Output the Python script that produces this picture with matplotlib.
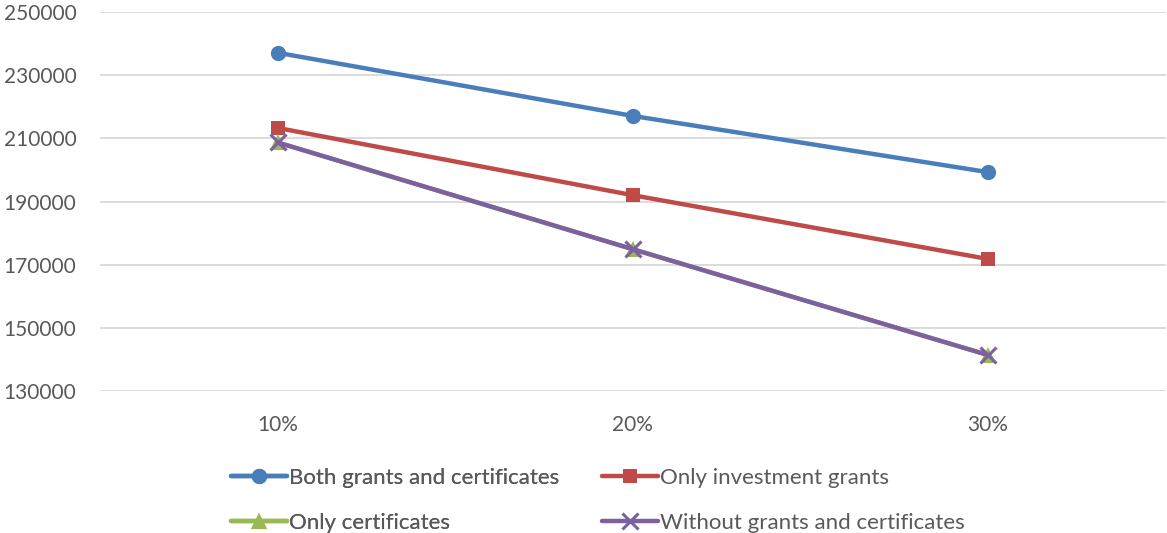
import matplotlib.pyplot as plt
import numpy as np

# discount rate scenarios and resulting values per support scheme
rates = ['10%', '20%', '30%']
both = [237100, 217100, 199300]
only_grants = [213300, 192000, 171800]
only_certs = [208700, 174900, 141400]
without = [208700, 174900, 141400]

series = [
    ('Both grants and certificates', both, '#4A7EBB', 'o', 11),
    ('Only investment grants', only_grants, '#BE4B48', 's', 10),
    ('Only certificates', only_certs, '#98B954', '^', 11),
    ('Without grants and certificates', without, '#7D60A0', 'x', 11),
]

plt.rcParams['font.family'] = ['Lato', 'DejaVu Sans']
text_col = '#595959'

fig = plt.figure(figsize=(11.67, 5.33), dpi=100)
ax = fig.add_axes([100/1167, 1 - 391/533, 1065.5/1167, 379/533])

x = np.arange(len(rates))
handles = []
for name, vals, col, mk, ms in series:
    kw = dict(markeredgewidth=2.2) if mk == 'x' else dict(markeredgewidth=0)
    h, = ax.plot(x, vals, color=col, lw=3.2, marker=mk, markersize=ms,
                 markerfacecolor=col, markeredgecolor=col, label=name,
                 solid_capstyle='round', **kw)
    handles.append(h)

ax.set_xlim(-0.5, 2.5)
ax.set_ylim(130000, 250000)
ax.set_yticks(np.arange(130000, 250001, 20000))
ax.set_xticks(x)
ax.set_xticklabels(rates)
ax.grid(axis='y', color='#D9D9D9', lw=1.3)
ax.set_axisbelow(True)
for s in ax.spines.values():
    s.set_visible(False)
ax.tick_params(length=0, labelsize=15, colors=text_col)
ax.tick_params(axis='y', pad=17)
ax.tick_params(axis='x', pad=17)

# two legend columns, filled row by row
legend_kw = dict(loc='upper left', frameon=False, fontsize=16,
                 labelcolor=text_col, handlelength=2.5, handletextpad=0.1,
                 labelspacing=1.12, borderpad=0, borderaxespad=0)
leg1 = fig.legend([handles[0], handles[2]], [series[0][0], series[2][0]],
                  bbox_to_anchor=(231/1167, 1 - 468/533), **legend_kw)
fig.add_artist(leg1)
fig.legend([handles[1], handles[3]], [series[1][0], series[3][0]],
           bbox_to_anchor=(602/1167, 1 - 468/533), **legend_kw)

fig.savefig('out.png', dpi=100)
